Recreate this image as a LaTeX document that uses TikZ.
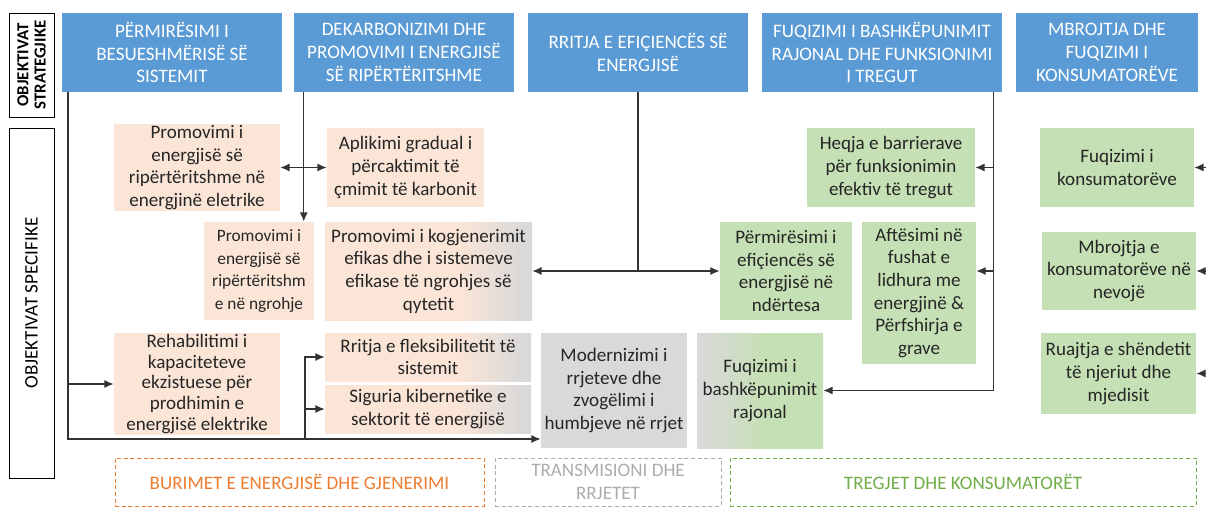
\documentclass[tikz,border=0pt]{standalone}
\usepackage{fontspec}
\setmainfont{Carlito}
\usetikzlibrary{arrows.meta}
\definecolor{headblue}{HTML}{5B9BD5}
\definecolor{pinkfill}{HTML}{FBE5D6}
\definecolor{greenfill}{HTML}{C5E0B4}
\definecolor{grayfill}{HTML}{D9D9D9}
\definecolor{orangetext}{HTML}{ED7D31}
\definecolor{graytext}{HTML}{AFABAB}
\definecolor{greentext}{HTML}{70AD47}
\pgfdeclarehorizontalshading{pinkgray}{100bp}{color(0bp)=(pinkfill); color(57bp)=(pinkfill); color(73bp)=(grayfill); color(100bp)=(grayfill)}
\pgfdeclarehorizontalshading{graygreen}{100bp}{color(0bp)=(grayfill); color(27bp)=(grayfill); color(52bp)=(greenfill); color(100bp)=(greenfill)}
\newcommand{\boxfont}{\fontsize{14.3}{17}\selectfont}
\newcommand{\smallboxfont}{\fontsize{13}{17}\selectfont}
\newcommand{\tightboxfont}{\fontsize{14.3}{15.5}\selectfont}
\newcommand{\labelfont}{\fontsize{12.6}{13}\selectfont\bfseries}

\begin{document}
\begin{tikzpicture}[x=0.75pt,y=-0.75pt,>={Latex[length=7pt,width=6pt]},
    wh/.style 2 args={minimum width=#1*0.75pt,minimum height=#2*0.75pt},
    base node/.style={align=center,inner sep=1pt,font=\boxfont,text=black!85},
    head node/.style={base node,fill=headblue,text=white},
    pink node/.style={base node,fill=pinkfill},
    green node/.style={base node,fill=greenfill},
    gray node/.style={base node,fill=grayfill},
    pinkgray node/.style={base node,shade,shading=pinkgray},
    graygreen node/.style={base node,shade,shading=graygreen},
    frame node/.style={base node,draw=black,line width=0.6pt,rotate=90,text=black},
    area node/.style={base node,draw=#1,text=#1,dash pattern=on 3pt off 2pt,line width=0.7pt},
    link/.style={draw=black!80,line width=1pt}]
  \useasboundingbox (0,0) rectangle (1206,508);

  % strategic objectives
  \node[head node,wh={220}{79}] (h1) at (172,52.5) {PËRMIRËSIMI I\\BESUESHMËRISË SË\\SISTEMIT};
  \node[head node,wh={220}{79}] (h2) at (404,52.5) {DEKARBONIZIMI DHE\\PROMOVIMI I ENERGJISË\\SË RIPËRTËRITSHME};
  \node[head node,wh={220}{79}] (h3) at (638,52.5) {RRITJA E EFIÇIENCËS SË\\ENERGJISË};
  \node[head node,wh={240}{79}] (h4) at (882,52.5) {FUQIZIMI I BASHKËPUNIMIT\\RAJONAL DHE FUNKSIONIMI\\I TREGUT};
  \node[head node,wh={182}{79}] (h5) at (1107,52.5) {MBROJTJA DHE\\FUQIZIMI I\\KONSUMATORËVE};

  \node[frame node,wh={104}{45},font=\labelfont] (strat) at (31.5,65) {OBJEKTIVAT\\STRATEGJIKE};
  \node[frame node,wh={350}{45}] (spec) at (31.5,303) {OBJEKTIVAT SPECIFIKE};

  % specific objectives
  \node[pink node,wh={166}{79}] (ren) at (197,167.5) {Promovimi i\\energjisë së\\ripërtëritshme në\\energjinë eletrike};
  \node[pink node,wh={157}{79}] (carb) at (405.5,167.5) {Aplikimi gradual i\\përcaktimit të\\çmimit të karbonit};
  \node[pink node,wh={110}{98},font=\smallboxfont] (heat) at (259,271) {Promovimi i\\energjisë së\\ripërtëritshm\\e në ngrohje};
  \node[pinkgray node,wh={207}{98}] (cogen) at (428.5,271) {Promovimi i kogjenerimit\\efikas dhe i sistemeve\\efikase të ngrohjes së\\qytetit};
  \node[pink node,wh={166}{102},font=\tightboxfont] (rehab) at (197,384) {Rehabilitimi i\\kapaciteteve\\ekzistuese për\\prodhimin e\\energjisë elektrike};
  \node[pinkgray node,wh={206}{48}] (flex) at (428,357) {Rritja e fleksibilitetit të\\sistemit};
  \node[pinkgray node,wh={206}{48}] (cyber) at (428,409) {Siguria kibernetike e\\sektorit të energjisë};
  \node[gray node,wh={146}{115}] (grid) at (614,390.5) {Modernizimi i\\rrjeteve dhe\\zvogëlimi i\\humbjeve në rrjet};
  \node[graygreen node,wh={126}{115}] (reg) at (760,390.5) {Fuqizimi i\\bashkëpunimit\\rajonal};
  \node[green node,wh={132}{98}] (build) at (786,271) {Përmirësimi i\\efiçiencës së\\energjisë në\\ndërtesa};
  \node[green node,wh={114}{142}] (skill) at (919,293) {Aftësimi në\\fushat e\\lidhura me\\energjinë \&\\Përfshirja e\\grave};
  \node[green node,wh={168}{79}] (barr) at (891,167.5) {Heqja e barrierave\\për funksionimin\\efektiv të tregut};
  \node[green node,wh={154}{79}] (cons) at (1117,167.5) {Fuqizimi i\\konsumatorëve};
  \node[green node,wh={154}{78}] (vuln) at (1119,271) {Mbrojtja e\\konsumatorëve në\\nevojë};
  \node[green node,wh={155}{81}] (env) at (1118.5,373.5) {Ruajtja e shëndetit\\të njeriut dhe\\mjedisit};

  % areas
  \node[area node=orangetext,wh={369}{48}] (src) at (299.5,482) {BURIMET E ENERGJISË DHE GJENERIMI};
  \node[area node=graytext,wh={226}{48}] (trans) at (608,482) {TRANSMISIONI DHE\\RRJETET};
  \node[area node=greentext,wh={466}{48}] (mkt) at (963,482) {TREGJET DHE KONSUMATORËT};

  % connectors
  \coordinate (c1) at (68,439);
  \coordinate (c2) at (305,439);
  \draw[link,->] (h1.south -| c1) -- (c1) -- (c1 -| grid.west);
  \draw[link,->] (c1 |- rehab.west) -- (rehab.west);
  \draw[link,->] (c2) |- (flex.west);
  \draw[link,->] (c2 |- cyber.west) -- (cyber.west);

  \coordinate (c3) at ([xshift=7.5pt]h2.south west);
  \draw[link,->] (c3) -- (c3 |- heat.north);
  \draw[link,<->] (ren.east) -- (carb.west);

  \draw[link] (h3.south) -- (h3.south |- cogen.east) coordinate (c4);
  \draw[link,->] (c4) -- (cogen.east);
  \draw[link,->] (c4) -- (build.west);

  \coordinate (c5) at ([xshift=-6.75pt]h4.south east);
  \draw[link,->] (c5) |- (reg.east);
  \draw[link,->] (c5 |- barr.east) -- (barr.east);
  \draw[link,->] (c5 |- build.east) -- (skill.east |- build.east);

  \coordinate (rim) at (1206,0);
  \draw[link,->] (rim |- cons.east) -- (cons.east);
  \draw[link,->] (rim |- vuln.east) -- (vuln.east);
  \draw[link,->] (rim |- env.east) -- (env.east);
\end{tikzpicture}
\end{document}
